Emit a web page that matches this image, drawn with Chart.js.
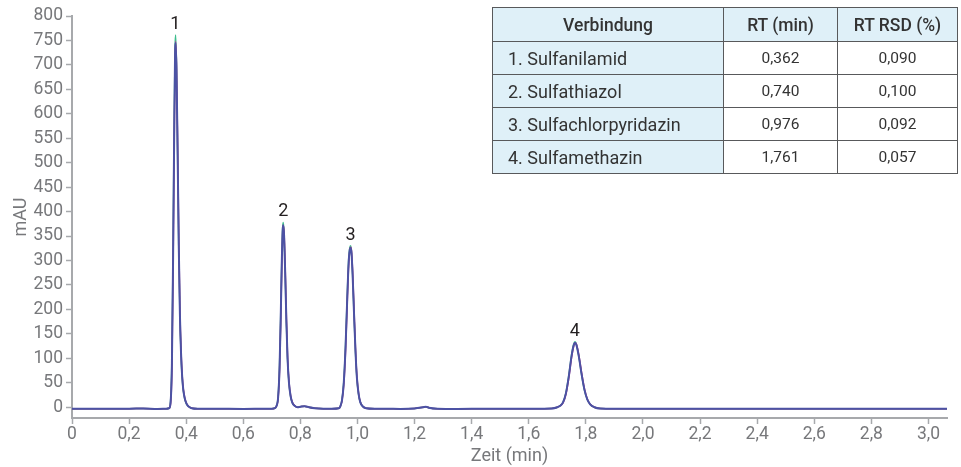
<!DOCTYPE html>
<html lang="de">
<head>
<meta charset="utf-8">
<title>Chromatogramm Sulfonamide</title>
<script src="https://cdn.jsdelivr.net/npm/chart.js@4.4.1/dist/chart.umd.min.js"></script>
<style>
    html, body { margin: 0; padding: 0; background: #fff; }
    .wrap { position: relative; width: 961px; height: 467px; font-family: Roboto, "Noto Sans", sans-serif; }
    #chromChart { position: absolute; left: 0; top: 0; }
    .rt-table {
        position: absolute; left: 492px; top: 7px; width: 465px; table-layout: fixed;
        border-collapse: collapse; color: #333; font-family: Roboto, sans-serif;
    }
    .rt-table td, .rt-table th { border: 1px solid #58595b; padding: 0; height: 32px; }
    .rt-table th { background: #dff0f8; font-weight: 500; font-size: 17.5px; height: 33px; text-align: center; }
    .rt-table td { font-size: 15.5px; text-align: center; background: #fff; }
    .rt-table td.name { background: #dff0f8; text-align: left; padding-left: 15px; font-size: 18px; }
</style>
</head>
<body>
<div class="wrap">
    <canvas id="chromChart" width="961" height="467"></canvas>
    <table class="rt-table" id="rtTable">
        <colgroup><col style="width:231px"><col style="width:114px"><col style="width:120px"></colgroup>
    </table>
</div>
<script>
// --- Data ---
var timeMin = [
    0, 0.1, 0.2, 0.25, 0.3, 0.33,
    0.340, 0.345, 0.350, 0.354, 0.358, 0.361, 0.363, 0.366, 0.370, 0.374, 0.378, 0.382, 0.386, 0.390, 0.395, 0.400, 0.406, 0.412, 0.42, 0.44,
    0.5, 0.6, 0.68, 0.70, 0.71,
    0.716, 0.722, 0.727, 0.731, 0.735, 0.738, 0.740, 0.743, 0.747, 0.751, 0.755, 0.760, 0.766, 0.772, 0.780, 0.79,
    0.80, 0.815, 0.83, 0.85, 0.88, 0.91, 0.935,
    0.940, 0.946, 0.952, 0.958, 0.964, 0.969, 0.973, 0.976, 0.979, 0.983, 0.988, 0.993, 0.998, 1.004, 1.010, 1.018, 1.03, 1.06,
    1.1, 1.15, 1.2, 1.23, 1.24, 1.25, 1.28, 1.35, 1.45, 1.55, 1.62, 1.68,
    1.70, 1.71, 1.72, 1.73, 1.74, 1.75, 1.757, 1.762, 1.767, 1.775, 1.785, 1.795, 1.805, 1.815, 1.83, 1.85, 1.9,
    2.0, 2.2, 2.4, 2.6, 2.8, 3.0, 3.065
];
var blueTrace = [
    -3, -3, -3, -2.5, -3.5, -3,
    -2, 8, 90, 300, 560, 720, 745, 690, 520, 330, 190, 110, 62, 35, 18, 9, 3, 0, -2, -3,
    -3, -3.5, -3, -3, -2,
    2, 20, 80, 180, 300, 362, 372, 350, 270, 175, 100, 50, 22, 9, 3, 0,
    1, 2, 0, -2, -3, -3, -2,
    2, 15, 50, 120, 220, 295, 322, 326, 315, 270, 190, 115, 60, 27, 10, 2, -2, -3,
    -3, -3.5, -2.5, 0, 1, -1, -3, -3.5, -3, -3, -3, -2.5,
    0, 3, 10, 28, 62, 105, 126, 132, 127, 105, 68, 36, 16, 6, 0, -2.5, -3,
    -3, -3, -3, -3, -3, -3, -3
];
var greenTrace = [
    -3, -3, -3, -2.5, -3.5, -3,
    -2, 10, 100, 320, 585, 735, 761, 700, 515, 325, 186, 108, 60, 34, 17, 8, 3, 0, -2, -3,
    -3, -3.5, -3, -3, -2,
    2, 22, 85, 186, 306, 368, 378, 354, 270, 172, 98, 49, 21, 9, 3, 0,
    1, 2, 0, -2, -3, -3, -2,
    2, 16, 52, 124, 225, 300, 326, 330, 318, 270, 188, 113, 59, 26, 10, 2, -2, -3,
    -3, -3.5, -2.5, 0, 1, -1, -3, -3.5, -3, -3, -3, -2.5,
    0, 3, 10, 29, 64, 107, 128, 134, 128, 105, 67, 35, 16, 6, 0, -2.5, -3,
    -3, -3, -3, -3, -3, -3, -3
];
var magentaTrace = [
    -3, -3, -3, -2.5, -3.5, -3,
    -2, 6, 80, 280, 540, 705, 748, 700, 535, 345, 200, 115, 65, 37, 19, 9, 3, 0, -2, -3,
    -3, -3.5, -3, -3, -2,
    2, 18, 74, 172, 292, 358, 372, 356, 280, 184, 106, 53, 23, 10, 3, 0,
    1, 2, 0, -2, -3, -3, -2,
    2, 14, 46, 112, 212, 290, 320, 327, 320, 278, 198, 120, 63, 28, 11, 2, -2, -3,
    -3, -3.5, -2.5, 0, 1, -1, -3, -3.5, -3, -3, -3, -2.5,
    0, 3, 9, 26, 59, 102, 124, 132, 129, 108, 71, 38, 17, 6, 0, -2.5, -3,
    -3, -3, -3, -3, -3, -3, -3
];

var peakLabels = ['1', '2', '3', '4'];
var peakTimes = [0.362, 0.740, 0.976, 1.761];
var peakHeights = [761, 378, 330, 134];

var yTicks = [0, 50, 100, 150, 200, 250, 300, 350, 400, 450, 500, 550, 600, 650, 700, 750, 800];
var xTicks = [0, 0.2, 0.4, 0.6, 0.8, 1.0, 1.2, 1.4, 1.6, 1.8, 2.0, 2.2, 2.4, 2.6, 2.8, 3.0];

var tableHeader = ['Verbindung', 'RT (min)', 'RT RSD (%)'];
var compounds = ['1. Sulfanilamid', '2. Sulfathiazol', '3. Sulfachlorpyridazin', '4. Sulfamethazin'];
var rtValues = ['0,362', '0,740', '0,976', '1,761'];
var rsdValues = ['0,090', '0,100', '0,092', '0,057'];

(function () {
    'use strict';

    // --- Table ---
    var table = document.getElementById('rtTable');
    var html = '<tr>' + tableHeader.map(function (h) { return '<th>' + h + '</th>'; }).join('') + '</tr>';
    compounds.forEach(function (name, i) {
        html += '<tr><td class="name">' + name + '</td><td>' + rtValues[i] + '</td><td>' + rsdValues[i] + '</td></tr>';
    });
    table.insertAdjacentHTML('beforeend', html);

    function toPoints(values) {
        return timeMin.map(function (t, i) { return { x: t, y: values[i] }; });
    }

    var axisGrey = '#a7a9ac';
    var labelGrey = '#77787b';

    // --- Peak number labels ---
    var peakLabelPlugin = {
        id: 'peakLabels',
        afterDatasetsDraw: function (chart) {
            var ctx = chart.ctx;
            var xs = chart.scales.x;
            var ys = chart.scales.y;
            ctx.save();
            ctx.font = '18px Roboto, sans-serif';
            ctx.fillStyle = '#231f20';
            ctx.textAlign = 'center';
            ctx.textBaseline = 'alphabetic';
            peakLabels.forEach(function (lbl, i) {
                ctx.fillText(lbl, xs.getPixelForValue(peakTimes[i]), ys.getPixelForValue(peakHeights[i]) - 6);
            });
            ctx.restore();
        }
    };

    var tickFont = { family: 'Roboto', size: 17.5 };
    var titleFont = { family: 'Roboto', size: 18 };

    new Chart(document.getElementById('chromChart'), {
        type: 'line',
        data: {
            datasets: [
                { label: 'Injektion 3', data: toPoints(blueTrace), borderColor: '#4c52a4', borderWidth: 2 },
                { label: 'Injektion 2', data: toPoints(magentaTrace), borderColor: '#c23b8e', borderWidth: 1.5 },
                { label: 'Injektion 1', data: toPoints(greenTrace), borderColor: '#3dbd8c', borderWidth: 1.5 }
            ]
        },
        options: {
            responsive: false,
            animation: false,
            elements: {
                point: { radius: 0 },
                line: { cubicInterpolationMode: 'monotone', fill: false }
            },
            layout: { padding: { top: 16, right: 14, left: 11, bottom: 0 } },
            plugins: {
                legend: { display: false },
                tooltip: { enabled: false }
            },
            scales: {
                x: {
                    type: 'linear',
                    bounds: 'data',
                    min: 0,
                    max: 3.065,
                    afterBuildTicks: function (scale) {
                        scale.ticks = xTicks.map(function (v) { return { value: v }; });
                    },
                    afterFit: function (scale) { scale.height = 49; },
                    ticks: {
                        color: labelGrey,
                        font: tickFont,
                        padding: 0,
                        maxRotation: 0,
                        autoSkip: false,
                        callback: function (v) {
                            return v === 0 ? '0' : v.toFixed(1).replace('.', ',');
                        }
                    },
                    grid: { drawOnChartArea: false, color: axisGrey, tickLength: 6, tickWidth: 1.5 },
                    border: { color: axisGrey, width: 2 },
                    title: { display: true, text: 'Zeit (min)', color: labelGrey, font: titleFont, padding: 0 }
                },
                y: {
                    type: 'linear',
                    bounds: 'data',
                    min: -22,
                    max: 800,
                    afterBuildTicks: function (scale) {
                        scale.ticks = yTicks.map(function (v) { return { value: v }; });
                    },
                    afterFit: function (scale) { scale.width = 61; },
                    ticks: { color: labelGrey, font: tickFont, padding: 3, autoSkip: false },
                    grid: { drawOnChartArea: false, color: axisGrey, tickLength: 6, tickWidth: 1.5 },
                    border: { color: axisGrey, width: 2 },
                    title: { display: true, text: 'mAU', color: labelGrey, font: titleFont, padding: 0 }
                }
            }
        },
        plugins: [peakLabelPlugin]
    });
})();
</script>
</body>
</html>
